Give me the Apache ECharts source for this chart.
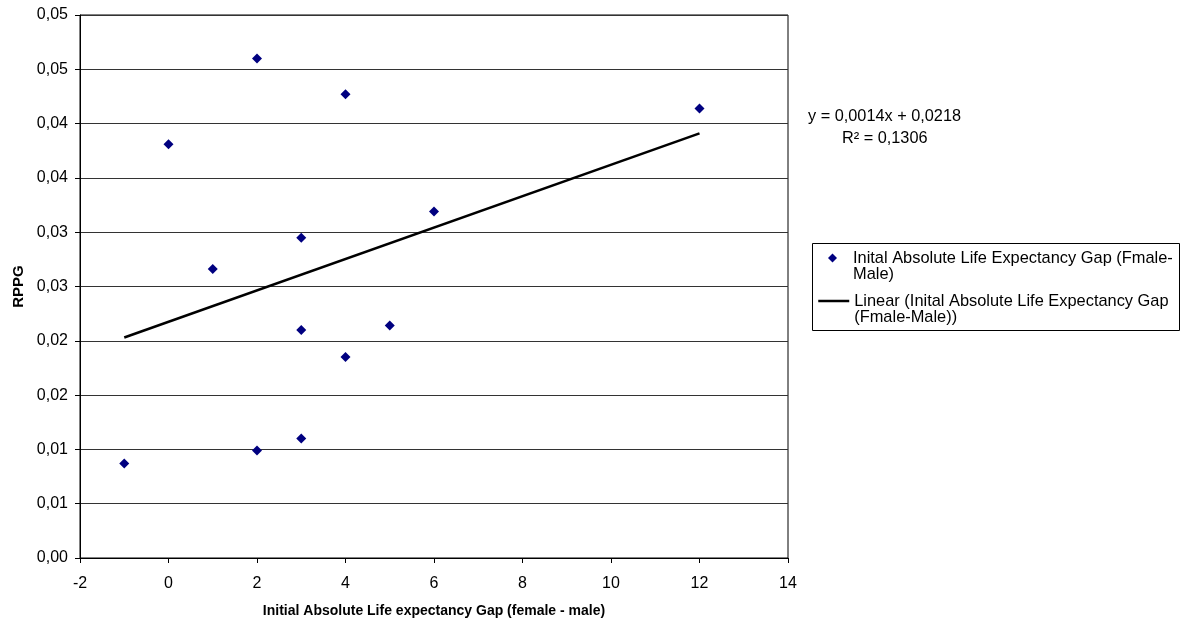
<!DOCTYPE html>
<html><head><meta charset="utf-8">
<script src="https://cdn.jsdelivr.net/npm/echarts@6/dist/echarts.min.js"></script>
<style>html,body{margin:0;padding:0;background:#fff}#c{width:1185px;height:626px}</style>
</head><body><div id="c"></div>
<script>
// ---- data ----
const gapX = [-1, 0, 1, 2, 2, 3, 3, 3, 4, 4, 5, 6, 12];
const rppg = [0.0087, 0.0381, 0.0266, 0.0460, 0.0099, 0.0295, 0.0210, 0.0110, 0.0427, 0.0185, 0.0214, 0.0319, 0.0414];
const trendX = [-1, 12];
const trendY = [0.0203, 0.0391];
const yTickLabels = ['0,00','0,01','0,01','0,02','0,02','0,03','0,03','0,04','0,04','0,05','0,05'];
const scatterName = 'Inital Absolute Life Expectancy Gap (Fmale-Male)';
const trendName = 'Linear (Inital Absolute Life Expectancy Gap (Fmale-Male))';
const scatterLegendText = 'Inital Absolute Life Expectancy Gap (Fmale-\nMale)';
const trendLegendText = 'Linear (Inital Absolute Life Expectancy Gap\n(Fmale-Male))';
const equationText = 'y = 0,0014x + 0,0218';
const r2Text = 'R\u00B2 = 0,1306';
const xAxisTitle = 'Initial Absolute Life expectancy Gap (female - male)';
const yAxisTitle = 'RPPG';

const FONT = 'Liberation Sans, Arial, sans-serif';
const chart = echarts.init(document.getElementById('c'), null, {renderer: 'canvas'});

const legendText = {fontFamily: FONT, fontSize: 16.4, color: '#000', lineHeight: 16};
// diamond centred in a 31x9 legend slot (degenerate end points keep the box width)
const diamondIcon = 'path://M0,4.5L0,4.5M31,4.5L31,4.5M15.5,0L20,4.5L15.5,9L11,4.5Z';

chart.setOption({
  animation: false,
  backgroundColor: '#fff',
  grid: {left: 80, right: 397, top: 15, bottom: 68, show: true, borderColor: '#000', borderWidth: 1, backgroundColor: 'transparent'},
  xAxis: {
    type: 'value', min: -2, max: 14, interval: 2,
    name: xAxisTitle, nameLocation: 'middle', nameGap: 46,
    nameTextStyle: {fontFamily: FONT, fontSize: 14, fontWeight: 'bold', color: '#000'},
    axisLine: {show: true, onZero: false, lineStyle: {color: '#000', width: 1}},
    axisTick: {show: true, inside: false, length: 5, lineStyle: {color: '#000'}},
    axisLabel: {fontFamily: FONT, fontSize: 16, color: '#000', margin: 18},
    splitLine: {show: false}
  },
  yAxis: {
    type: 'value', min: 0, max: 0.05, interval: 0.005,
    name: yAxisTitle, nameLocation: 'middle', nameGap: 54, nameRotate: 90,
    nameTextStyle: {fontFamily: FONT, fontSize: 15, fontWeight: 'bold', color: '#000'},
    axisLine: {show: true, onZero: false, lineStyle: {color: '#000', width: 1}},
    axisTick: {show: true, inside: false, length: 5, lineStyle: {color: '#000'}},
    axisLabel: {
      fontFamily: FONT, fontSize: 16, color: '#000', margin: 12,
      formatter: function (v) { return yTickLabels[Math.round(v / 0.005)]; }
    },
    splitLine: {show: true, lineStyle: {color: '#333', width: 1}}
  },
  legend: [
    {
      data: [{name: scatterName, icon: diamondIcon}], orient: 'vertical', left: 817, top: 234, padding: 0,
      itemWidth: 31, itemHeight: 9, selectedMode: false,
      itemStyle: {color: '#000080', opacity: 1, borderWidth: 0},
      formatter: function () { return '\n' + scatterLegendText; },
      textStyle: legendText
    },
    {
      data: [trendName], orient: 'vertical', left: 817, top: 277, padding: 0,
      itemWidth: 31, itemHeight: 9, selectedMode: false,
      itemStyle: {opacity: 0},
      lineStyle: {color: '#000', width: 2.5, opacity: 1},
      formatter: function () { return '\n' + trendLegendText; },
      textStyle: legendText
    }
  ],
  graphic: [
    {type: 'rect', z: 1, shape: {x: 812.5, y: 243.5, width: 367, height: 87}, style: {fill: '#fff', stroke: '#000', lineWidth: 1}},
    {type: 'text', x: 808, y: 117, style: {text: equationText, fontFamily: FONT, fontSize: 16.3, fill: '#000', verticalAlign: 'middle'}},
    {type: 'text', x: 842, y: 139, style: {text: r2Text, fontFamily: FONT, fontSize: 16.3, fill: '#000', verticalAlign: 'middle'}}
  ],
  series: [
    {
      name: scatterName, type: 'scatter', symbol: 'diamond', symbolSize: 10,
      itemStyle: {color: '#000080', opacity: 1},
      data: gapX.map(function (x, i) { return [x, rppg[i]]; })
    },
    {
      name: trendName, type: 'line', symbol: 'none', showSymbol: false,
      lineStyle: {color: '#000', width: 2.5}, itemStyle: {color: '#000'},
      data: trendX.map(function (x, i) { return [x, trendY[i]]; })
    }
  ]
});
</script>
</body></html>
